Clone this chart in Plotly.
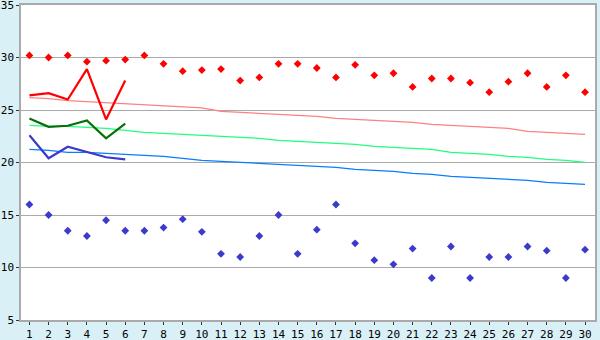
import plotly.graph_objects as go

days = list(range(1, 31))
tick_labels = [str(d) for d in days]

max_temps = [30.2, 30.0, 30.2, 29.6, 29.7, 29.8, 30.2, 29.4, 28.7, 28.8,
             28.9, 27.8, 28.1, 29.4, 29.4, 29.0, 28.1, 29.3, 28.3, 28.5,
             27.2, 28.0, 28.0, 27.6, 26.7, 27.7, 28.5, 27.2, 28.3, 26.7]
min_temps = [16.0, 15.0, 13.5, 13.0, 14.5, 13.5, 13.5, 13.8, 14.6, 13.4,
             11.3, 11.0, 13.0, 15.0, 11.3, 13.6, 16.0, 12.3, 10.7, 10.3,
             11.8, 9.0, 12.0, 9.0, 11.0, 11.0, 12.0, 11.6, 9.0, 11.7]

actual_days = [1, 2, 3, 4, 5, 6]
actual_max = [26.4, 26.6, 26.0, 28.9, 24.1, 27.8]
actual_mean = [24.2, 23.4, 23.5, 24.0, 22.3, 23.7]
actual_min = [22.6, 20.4, 21.5, 21.0, 20.5, 20.3]

normal_max = [26.17, 26.08, 25.89, 25.79, 25.70, 25.60, 25.51, 25.41, 25.32, 25.20,
              24.87, 24.78, 24.68, 24.59, 24.49, 24.40, 24.21, 24.11, 24.02, 23.92,
              23.83, 23.64, 23.54, 23.45, 23.35, 23.25, 22.97, 22.87, 22.78, 22.68]
normal_mean = [23.54, 23.44, 23.44, 23.35, 23.25, 23.06, 22.87, 22.78, 22.68, 22.59,
               22.49, 22.40, 22.30, 22.11, 22.02, 21.92, 21.83, 21.73, 21.54, 21.44,
               21.35, 21.25, 20.97, 20.87, 20.78, 20.59, 20.49, 20.30, 20.21, 20.02]
normal_min = [21.25, 21.16, 20.97, 20.97, 20.87, 20.78, 20.68, 20.59, 20.40, 20.21,
              20.11, 20.02, 19.92, 19.83, 19.73, 19.64, 19.54, 19.35, 19.25, 19.16,
              18.97, 18.87, 18.68, 18.59, 18.49, 18.40, 18.30, 18.11, 18.02, 17.92]

fig = go.Figure()
fig.add_trace(go.Scatter(x=days, y=normal_max, mode="lines",
                         line=dict(color="#ff8080", width=1.3)))
fig.add_trace(go.Scatter(x=days, y=normal_mean, mode="lines",
                         line=dict(color="#1eff80", width=1.3)))
fig.add_trace(go.Scatter(x=days, y=normal_min, mode="lines",
                         line=dict(color="#0a7cff", width=1.3)))
fig.add_trace(go.Scatter(x=days, y=max_temps, mode="markers",
                         marker=dict(symbol="diamond", size=6, color="#ff0000")))
fig.add_trace(go.Scatter(x=days, y=min_temps, mode="markers",
                         marker=dict(symbol="diamond", size=6, color="#3a3acc")))
fig.add_trace(go.Scatter(x=actual_days, y=actual_max, mode="lines",
                         line=dict(color="#ff0000", width=2.2)))
fig.add_trace(go.Scatter(x=actual_days, y=actual_mean, mode="lines",
                         line=dict(color="#067006", width=2.2)))
fig.add_trace(go.Scatter(x=actual_days, y=actual_min, mode="lines",
                         line=dict(color="#3a3acc", width=2.2)))

fig.update_layout(
    width=600, height=340,
    margin=dict(l=21, r=5, t=5, b=20),
    paper_bgcolor="#daf0f7",
    plot_bgcolor="#ffffff",
    showlegend=False,
    font=dict(family="DejaVu Sans Mono", size=11, color="#000000"),
)
fig.update_xaxes(
    range=[0.56, 30.52], tickmode="array", tickvals=days, ticktext=tick_labels,
    showgrid=False, zeroline=False, automargin=False, ticklabeloverflow="allow",
    showline=True, linecolor="#aaaaaa", linewidth=1.5, mirror=True,
    ticks="outside", ticklen=3, tickcolor="#333333", tickwidth=1,
)
fig.update_yaxes(
    range=[5, 35], dtick=5, showgrid=True, gridcolor="#aaaaaa", gridwidth=1,
    zeroline=False, automargin=False, ticklabeloverflow="allow",
    showline=True, linecolor="#aaaaaa", linewidth=1.5, mirror=True,
    ticks="outside", ticklen=3, tickcolor="#333333", tickwidth=1,
)

fig.write_html("out.html")
